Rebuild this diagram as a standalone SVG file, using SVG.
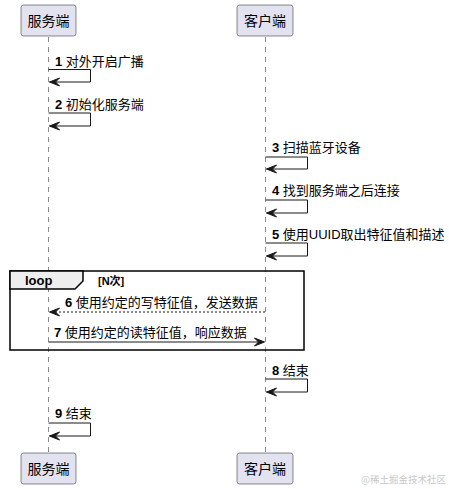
<svg xmlns="http://www.w3.org/2000/svg" width="449" height="489" viewBox="0 0 449 489">
<style>
.p rect{fill:#E2E2F0;stroke:#181818;stroke-width:0.5}
.p text{font-family:"Liberation Sans","Noto Sans CJK SC",sans-serif;font-size:14px;fill:#000}
.life{stroke:#181818;stroke-width:0.5;stroke-dasharray:5,5}
.m{fill:none;stroke:#181818;stroke-width:1}
.d{stroke-dasharray:2,2}
.ah{fill:#181818;stroke:#181818;stroke-width:1}
.t{font-family:"Liberation Sans","Noto Sans CJK SC",sans-serif;font-size:13px;fill:#000}
.n{font-weight:bold}
</style>
<g id="lifelines">
<line class="life" x1="48.5" y1="37" x2="48.5" y2="453"/>
<line class="life" x1="265.5" y1="37" x2="265.5" y2="453"/>
</g>
<g id="server-top" class="p"><rect x="21" y="5" width="55" height="31" rx="2.5"/><text x="27.5" y="26">服务端</text></g>
<g id="client-top" class="p"><rect x="237" y="5" width="56" height="31" rx="2.5"/><text x="244" y="26">客户端</text></g>
<g id="server-bottom" class="p"><rect x="21" y="453" width="55" height="31" rx="2.5"/><text x="27.5" y="474">服务端</text></g>
<g id="client-bottom" class="p"><rect x="237" y="453" width="56" height="31" rx="2.5"/><text x="244" y="474">客户端</text></g>
<g id="loop">
<rect x="10" y="271" width="294" height="79" fill="none" stroke="#000" stroke-width="1.5"/>
<path d="M10,271 L83,271 L83,281 L75,289 L10,289 Z" fill="#EEEEEE" stroke="#000" stroke-width="1.5"/>
<text x="25" y="285" class="t n">loop</text>
<text x="98" y="285" class="t n" style="font-size:11px">[N次]</text>
</g>
<g id="connectors">
<path class="m" d="M48.5,69.5 H90.5 V82 H49.5"/>
<polygon class="ah" points="59.5,78 49.5,82 59.5,86 55.5,82"/>
<path class="m" d="M48.5,113 H90.5 V126 H49.5"/>
<polygon class="ah" points="59.5,122 49.5,126 59.5,130 55.5,126"/>
<path class="m" d="M265.5,157 H307.5 V169 H266.5"/>
<polygon class="ah" points="276.5,165 266.5,169 276.5,173 272.5,169"/>
<path class="m" d="M265.5,200 H307.5 V213 H266.5"/>
<polygon class="ah" points="276.5,209 266.5,213 276.5,217 272.5,213"/>
<path class="m" d="M265.5,243 H307.5 V256 H266.5"/>
<polygon class="ah" points="276.5,252 266.5,256 276.5,260 272.5,256"/>
<path class="m d" d="M265,312 H50"/>
<polygon class="ah" points="59.5,308 49.5,312 59.5,316 55.5,312"/>
<path class="m" d="M48.5,342 H263"/>
<polygon class="ah" points="254.5,338 264.5,342 254.5,346 258.5,342"/>
<path class="m" d="M265.5,379 H307.5 V392 H266.5"/>
<polygon class="ah" points="276.5,388 266.5,392 276.5,396 272.5,392"/>
<path class="m" d="M48.5,423 H90.5 V436 H49.5"/>
<polygon class="ah" points="59.5,432 49.5,436 59.5,440 55.5,436"/>
</g>
<g id="labels">
<text x="55" y="66" class="t"><tspan class="n">1</tspan> 对外开启广播</text>
<text x="55" y="109" class="t"><tspan class="n">2</tspan> 初始化服务端</text>
<text x="272" y="152" class="t"><tspan class="n">3</tspan> 扫描蓝牙设备</text>
<text x="272" y="195" class="t"><tspan class="n">4</tspan> 找到服务端之后连接</text>
<text x="272" y="239" class="t"><tspan class="n">5</tspan> 使用UUID取出特征值和描述</text>
<text x="65" y="307" class="t"><tspan class="n">6</tspan> 使用约定的写特征值，发送数据</text>
<text x="54" y="337" class="t"><tspan class="n">7</tspan> 使用约定的读特征值，响应数据</text>
<text x="272" y="375" class="t"><tspan class="n">8</tspan> 结束</text>
<text x="55" y="418" class="t"><tspan class="n">9</tspan> 结束</text>
</g>
<text x="361" y="483" style="font-family:'Noto Sans CJK SC',sans-serif;font-size:9.5px;fill:#C8C8C8">@稀土掘金技术社区</text>
</svg>
